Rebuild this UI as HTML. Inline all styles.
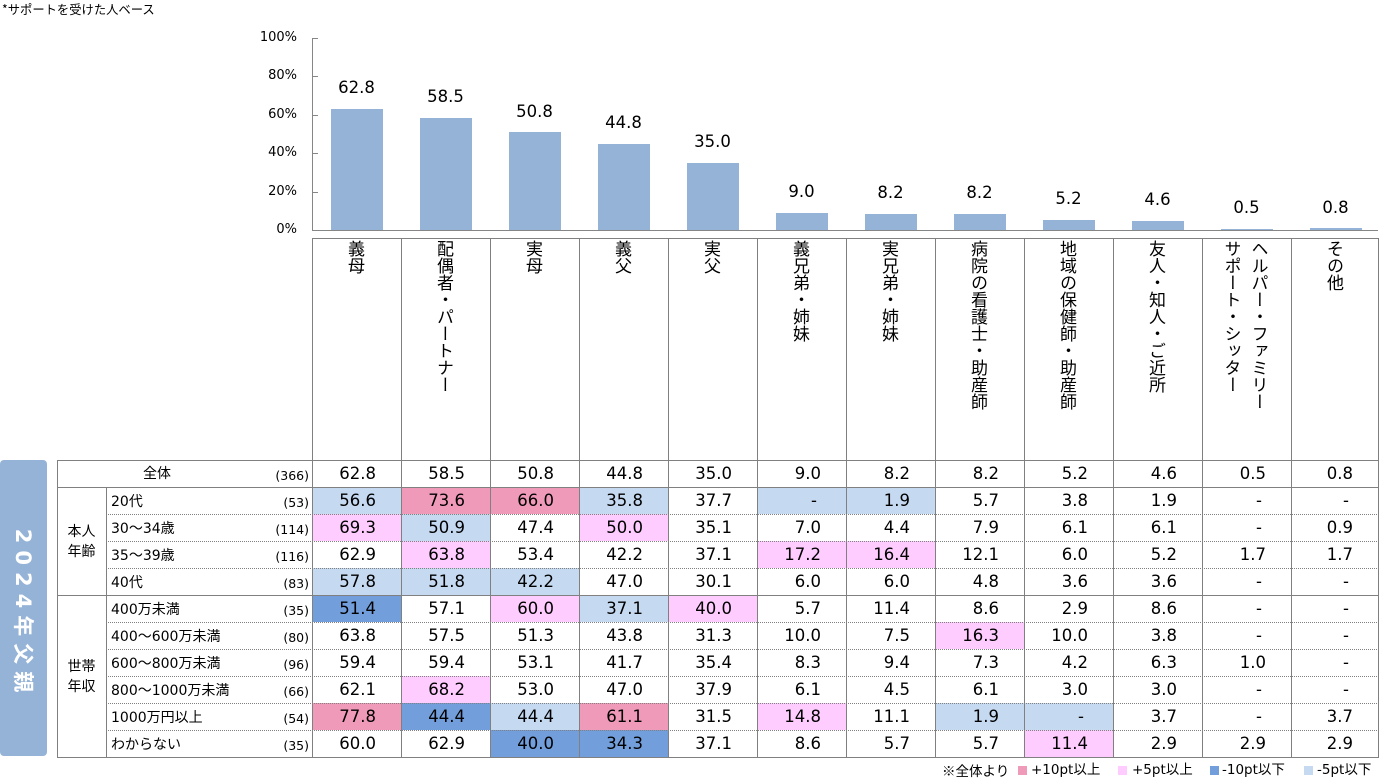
<!DOCTYPE html>
<html><head><meta charset="utf-8">
<style>
*{margin:0;padding:0;box-sizing:border-box}
html,body{width:1381px;height:778px}
body{background:#fff;overflow:hidden;position:relative;font-family:"DejaVu Sans","Noto Sans CJK JP",sans-serif;color:#000}
.a{position:absolute}
.jp{font-family:"Noto Sans CJK JP",sans-serif}
.yl{position:absolute;right:1084px;font-size:13px;line-height:16px;text-align:right;white-space:nowrap}
.bar{position:absolute;width:52px;background:#95b3d7}
.bl{position:absolute;width:89px;height:20px;line-height:20px;text-align:center;font-size:16.5px}
.tk{position:absolute;left:312px;width:6px;height:1px;background:#868686}
.hc{position:absolute;top:240px;width:89px;height:218px;display:flex;justify-content:center;align-items:flex-start}
.hc div{writing-mode:vertical-rl;font-family:"Noto Sans CJK JP",sans-serif;font-size:17px;line-height:27px;white-space:nowrap}
.grid{position:absolute;left:312px;top:460px;display:grid;grid-template-columns:repeat(11,89px) 87px;grid-template-rows:repeat(11,27px)}
.grid div{text-align:right;padding-right:25px;font-size:16.5px;line-height:27px;white-space:nowrap}
.grid div.d{padding-right:29px}
.pk{background:#f09ab9}
.lp{background:#ffccff}
.db{background:#729fdb}
.lb{background:#c5d9f1}
.vl{position:absolute;width:1px;background:#808080}
.hl{position:absolute;height:1px;background:#808080}
.dl{position:absolute;left:106px;width:1273px;height:0;border-top:1px dotted #808080}
.rl{position:absolute;left:111px;height:27px;line-height:27px;font-size:14px;white-space:nowrap;margin-top:2px}
.rc{position:absolute;left:200px;width:109px;height:27px;line-height:27px;font-size:12.5px;text-align:right;margin-top:2px}
.lg{position:absolute;top:761px;font-size:13.5px;line-height:18px;white-space:nowrap}
.sq{position:absolute;top:766px;width:9px;height:9px}
</style></head>
<body>
<div class="a jp" style="left:2px;top:1px;font-size:12.3px;line-height:16px;white-space:nowrap">*サポートを受けた人ベース</div>

<div class="yl" style="top:30px">100%</div>
<div class="yl" style="top:68.4px">80%</div>
<div class="yl" style="top:106.8px">60%</div>
<div class="yl" style="top:145.2px">40%</div>
<div class="yl" style="top:183.6px">20%</div>
<div class="yl" style="top:222px">0%</div>

<div class="bar" style="left:331px;top:109.42px;height:120.58px"></div>
<div class="bar" style="left:420px;top:117.68px;height:112.32px"></div>
<div class="bar" style="left:509px;top:132.46px;height:97.54px"></div>
<div class="bar" style="left:598px;top:143.98px;height:86.02px"></div>
<div class="bar" style="left:687px;top:162.8px;height:67.2px"></div>
<div class="bar" style="left:776px;top:212.72px;height:17.28px"></div>
<div class="bar" style="left:865px;top:214.26px;height:15.74px"></div>
<div class="bar" style="left:954px;top:214.26px;height:15.74px"></div>
<div class="bar" style="left:1043px;top:220.02px;height:9.98px"></div>
<div class="bar" style="left:1132px;top:221.17px;height:8.83px"></div>
<div class="bar" style="left:1221px;top:229.04px;height:0.96px"></div>
<div class="bar" style="left:1310px;top:228.46px;height:1.54px"></div>

<div class="bl" style="left:312px;top:78.4px">62.8</div>
<div class="bl" style="left:401px;top:86.7px">58.5</div>
<div class="bl" style="left:490px;top:101.5px">50.8</div>
<div class="bl" style="left:579px;top:113px">44.8</div>
<div class="bl" style="left:668px;top:131.8px">35.0</div>
<div class="bl" style="left:757px;top:181.7px">9.0</div>
<div class="bl" style="left:846px;top:183.3px">8.2</div>
<div class="bl" style="left:935px;top:183.3px">8.2</div>
<div class="bl" style="left:1024px;top:189px">5.2</div>
<div class="bl" style="left:1113px;top:190.2px">4.6</div>
<div class="bl" style="left:1202px;top:198px">0.5</div>
<div class="bl" style="left:1291px;top:197.5px">0.8</div>

<div class="a" style="left:312px;top:38px;width:1px;height:193px;background:#868686"></div>
<div class="a" style="left:312px;top:230px;width:1066px;height:1px;background:#868686"></div>
<div class="tk" style="top:38px"></div>
<div class="tk" style="top:76px"></div>
<div class="tk" style="top:115px"></div>
<div class="tk" style="top:153px"></div>
<div class="tk" style="top:192px"></div>

<div class="hc" style="left:312px"><div>義母</div></div>
<div class="hc" style="left:401px"><div>配偶者・パートナー</div></div>
<div class="hc" style="left:490px"><div>実母</div></div>
<div class="hc" style="left:579px"><div>義父</div></div>
<div class="hc" style="left:668px"><div>実父</div></div>
<div class="hc" style="left:757px"><div>義兄弟・姉妹</div></div>
<div class="hc" style="left:846px"><div>実兄弟・姉妹</div></div>
<div class="hc" style="left:935px"><div>病院の看護士・助産師</div></div>
<div class="hc" style="left:1024px"><div>地域の保健師・助産師</div></div>
<div class="hc" style="left:1113px"><div>友人・知人・ご近所</div></div>
<div class="hc" style="left:1202px"><div>ヘルパー・ファミリー<br>サポート・シッター</div></div>
<div class="hc" style="left:1291px"><div>その他</div></div>

<div class="a" style="left:0;top:460px;width:47px;height:296px;background:#95b3d7;border-radius:4px"></div>
<div class="a" style="left:23px;top:614px;transform:translate(-50%,-50%) rotate(90deg);color:#fff;font-weight:bold;font-size:21px;letter-spacing:7px;line-height:24px;white-space:nowrap;font-family:'DejaVu Sans','Noto Sans CJK JP',sans-serif">2024年父親</div>

<div class="grid">
<div>62.8</div><div>58.5</div><div>50.8</div><div>44.8</div><div>35.0</div><div>9.0</div><div>8.2</div><div>8.2</div><div>5.2</div><div>4.6</div><div>0.5</div><div>0.8</div>
<div class="lb">56.6</div><div class="pk">73.6</div><div class="pk">66.0</div><div class="lb">35.8</div><div>37.7</div><div class="lb d">-</div><div class="lb">1.9</div><div>5.7</div><div>3.8</div><div>1.9</div><div class="d">-</div><div class="d">-</div>
<div class="lp">69.3</div><div class="lb">50.9</div><div>47.4</div><div class="lp">50.0</div><div>35.1</div><div>7.0</div><div>4.4</div><div>7.9</div><div>6.1</div><div>6.1</div><div class="d">-</div><div>0.9</div>
<div>62.9</div><div class="lp">63.8</div><div>53.4</div><div>42.2</div><div>37.1</div><div class="lp">17.2</div><div class="lp">16.4</div><div>12.1</div><div>6.0</div><div>5.2</div><div>1.7</div><div>1.7</div>
<div class="lb">57.8</div><div class="lb">51.8</div><div class="lb">42.2</div><div>47.0</div><div>30.1</div><div>6.0</div><div>6.0</div><div>4.8</div><div>3.6</div><div>3.6</div><div class="d">-</div><div class="d">-</div>
<div class="db">51.4</div><div>57.1</div><div class="lp">60.0</div><div class="lb">37.1</div><div class="lp">40.0</div><div>5.7</div><div>11.4</div><div>8.6</div><div>2.9</div><div>8.6</div><div class="d">-</div><div class="d">-</div>
<div>63.8</div><div>57.5</div><div>51.3</div><div>43.8</div><div>31.3</div><div>10.0</div><div>7.5</div><div class="lp">16.3</div><div>10.0</div><div>3.8</div><div class="d">-</div><div class="d">-</div>
<div>59.4</div><div>59.4</div><div>53.1</div><div>41.7</div><div>35.4</div><div>8.3</div><div>9.4</div><div>7.3</div><div>4.2</div><div>6.3</div><div>1.0</div><div class="d">-</div>
<div>62.1</div><div class="lp">68.2</div><div>53.0</div><div>47.0</div><div>37.9</div><div>6.1</div><div>4.5</div><div>6.1</div><div>3.0</div><div>3.0</div><div class="d">-</div><div class="d">-</div>
<div class="pk">77.8</div><div class="db">44.4</div><div class="lb">44.4</div><div class="pk">61.1</div><div>31.5</div><div class="lp">14.8</div><div>11.1</div><div class="lb">1.9</div><div class="lb d">-</div><div>3.7</div><div class="d">-</div><div>3.7</div>
<div>60.0</div><div>62.9</div><div class="db">40.0</div><div class="db">34.3</div><div>37.1</div><div>8.6</div><div>5.7</div><div>5.7</div><div class="lp">11.4</div><div>2.9</div><div>2.9</div><div>2.9</div>
</div>

<div class="a jp" style="left:107px;top:460px;width:100px;height:27px;line-height:27px;font-size:14px;text-align:center">全体</div>
<div class="rc" style="top:460px">(366)</div>
<div class="rl" style="top:487px">20代</div><div class="rc" style="top:487px">(53)</div>
<div class="rl" style="top:514px">30～34歳</div><div class="rc" style="top:514px">(114)</div>
<div class="rl" style="top:541px">35～39歳</div><div class="rc" style="top:541px">(116)</div>
<div class="rl" style="top:568px">40代</div><div class="rc" style="top:568px">(83)</div>
<div class="rl" style="top:595px">400万未満</div><div class="rc" style="top:595px">(35)</div>
<div class="rl" style="top:622px">400～600万未満</div><div class="rc" style="top:622px">(80)</div>
<div class="rl" style="top:649px">600～800万未満</div><div class="rc" style="top:649px">(96)</div>
<div class="rl" style="top:676px">800～1000万未満</div><div class="rc" style="top:676px">(66)</div>
<div class="rl" style="top:703px">1000万円以上</div><div class="rc" style="top:703px">(54)</div>
<div class="rl" style="top:730px">わからない</div><div class="rc" style="top:730px">(35)</div>

<div class="a jp" style="left:57px;top:521px;width:49px;line-height:20px;font-size:14px;text-align:center">本人<br>年齢</div>
<div class="a jp" style="left:57px;top:656px;width:49px;line-height:20px;font-size:14px;text-align:center">世帯<br>年収</div>

<div class="hl" style="left:312px;top:238px;width:1067px"></div>
<div class="vl" style="left:312px;top:238px;height:520px"></div>
<div class="vl" style="left:401px;top:238px;height:520px"></div>
<div class="vl" style="left:490px;top:238px;height:520px"></div>
<div class="vl" style="left:579px;top:238px;height:520px"></div>
<div class="vl" style="left:668px;top:238px;height:520px"></div>
<div class="vl" style="left:757px;top:238px;height:520px"></div>
<div class="vl" style="left:846px;top:238px;height:520px"></div>
<div class="vl" style="left:935px;top:238px;height:520px"></div>
<div class="vl" style="left:1024px;top:238px;height:520px"></div>
<div class="vl" style="left:1113px;top:238px;height:520px"></div>
<div class="vl" style="left:1202px;top:238px;height:520px"></div>
<div class="vl" style="left:1291px;top:238px;height:520px"></div>
<div class="vl" style="left:1378px;top:238px;height:520px"></div>
<div class="vl" style="left:57px;top:460px;height:298px"></div>
<div class="vl" style="left:106px;top:487px;height:271px"></div>

<div class="hl" style="left:57px;top:460px;width:1322px"></div>
<div class="hl" style="left:57px;top:487px;width:1322px"></div>
<div class="hl" style="left:57px;top:595px;width:1322px"></div>
<div class="hl" style="left:57px;top:757px;width:1322px"></div>
<div class="dl" style="top:514px"></div>
<div class="dl" style="top:541px"></div>
<div class="dl" style="top:568px"></div>
<div class="dl" style="top:622px"></div>
<div class="dl" style="top:649px"></div>
<div class="dl" style="top:676px"></div>
<div class="dl" style="top:703px"></div>
<div class="dl" style="top:730px"></div>

<div class="lg jp" style="left:942px">※全体より</div>
<div class="sq pk" style="left:1018px"></div>
<div class="lg" style="left:1031px">+10pt以上</div>
<div class="sq lp" style="left:1118px"></div>
<div class="lg" style="left:1132px">+5pt以上</div>
<div class="sq db" style="left:1210px"></div>
<div class="lg" style="left:1222px">-10pt以下</div>
<div class="sq lb" style="left:1304px"></div>
<div class="lg" style="left:1317px">-5pt以下</div>
</body></html>
